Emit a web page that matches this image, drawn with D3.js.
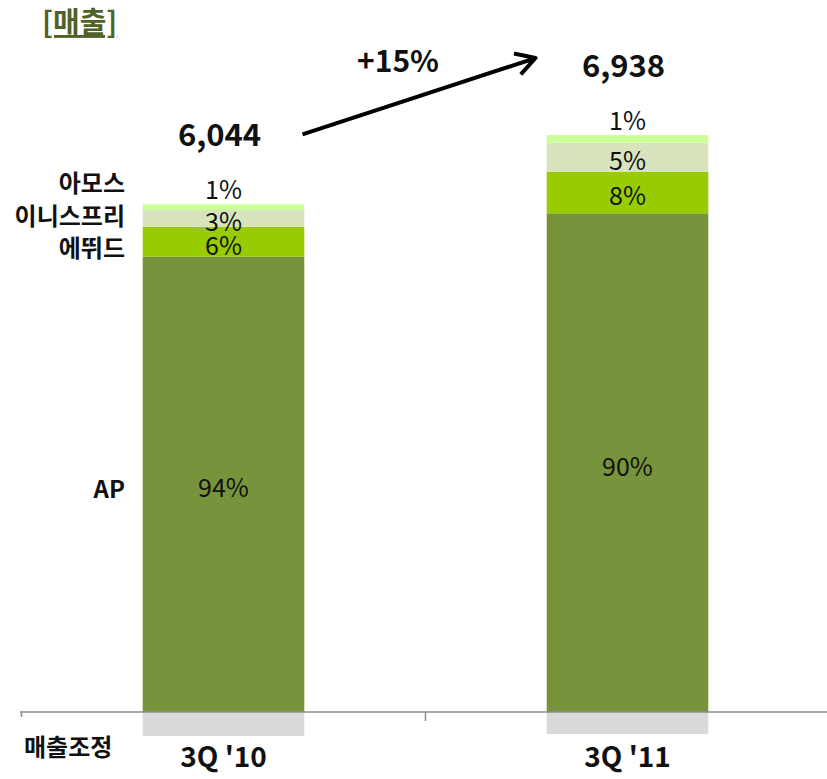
<!DOCTYPE html>
<html>
<head>
<meta charset="utf-8">
<script src="https://cdn.jsdelivr.net/npm/d3@7"></script>
<style>
  body { margin: 0; background: #fff; }
  text { font-family: "Noto Sans CJK KR", "Noto Sans", sans-serif; }
</style>
</head>
<body>
<svg id="chart"></svg>
<script>
// 데이터 (단위: 억원, 그림에서 읽은 추정치)
const categories = ["3Q '10", "3Q '11"];
const totals = [6044, 6938];
const growthLabel = "+15%";
const seriesKeys = ["adj", "ap", "etude", "innisfree", "amos"];
const seriesNames = ["매출조정", "AP", "에뛰드", "이니스프리", "아모스"];
const apValues = [5691, 6234];
const etudeValues = [375, 520];
const innisfreeValues = [209, 362];
const amosValues = [71, 96];
const adjValues = [-300, -275];
const shareLabels = {
    ap: ["94%", "90%"],
    etude: ["6%", "8%"],
    innisfree: ["3%", "5%"],
    amos: ["1%", "1%"]
};
const colors = {
    adj: "#d9d9d9",
    ap: "#77933c",
    etude: "#99cc00",
    innisfree: "#d7e4bd",
    amos: "#ccff99"
};

const width = 827, height = 779;

const svg = d3.select("#chart")
    .attr("width", width)
    .attr("height", height);

const rows = categories.map((c, i) => ({
    cat: c,
    adj: adjValues[i],
    ap: apValues[i],
    etude: etudeValues[i],
    innisfree: innisfreeValues[i],
    amos: amosValues[i]
}));

const stack = d3.stack()
    .keys(seriesKeys)
    .offset(d3.stackOffsetDiverging);
const series = stack(rows);

const xscale = d3.scaleBand()
    .domain(categories)
    .range([21.5, 829.5])
    .paddingInner(0.6)
    .paddingOuter(0.3);

const yscale = d3.scaleLinear()
    .domain([-500, 8900])
    .range([752, 0]);

const y0 = yscale(0);

// 막대
svg.append("g").selectAll("g")
    .data(series)
    .join("g")
    .attr("fill", d => colors[d.key])
    .selectAll("rect")
    .data(d => d)
    .join("rect")
    .attr("x", d => xscale(d.data.cat))
    .attr("y", d => yscale(d[1]))
    .attr("width", xscale.bandwidth())
    .attr("height", d => yscale(d[0]) - yscale(d[1]));

// x축 (선 + 카테고리 경계 눈금)
const axis = svg.append("g").attr("stroke", "#8c8c8c").attr("stroke-width", 1.5);
axis.append("line")
    .attr("x1", 20).attr("x2", width)
    .attr("y1", y0).attr("y2", y0);
const step = xscale.step();
const bounds = [xscale(categories[0]) - step * 0.3, xscale(categories[0]) - step * 0.3 + step];
axis.selectAll("line.tick")
    .data(bounds)
    .join("line")
    .attr("class", "tick")
    .attr("x1", d => d).attr("x2", d => d)
    .attr("y1", y0).attr("y2", (d, i) => y0 + (i === 0 ? 5 : 9));

// 구성비 라벨
const labelKeys = ["ap", "etude", "innisfree", "amos"];
series.filter(s => labelKeys.includes(s.key)).forEach(s => {
    svg.append("g").selectAll("text")
        .data(s)
        .join("text")
        .attr("x", d => xscale(d.data.cat) + xscale.bandwidth() / 2)
        .attr("y", d => s.key === "amos"
            ? yscale(d[1]) - 5
            : (yscale(d[0]) + yscale(d[1])) / 2 + 2)
        .attr("dominant-baseline", s.key === "amos" ? "auto" : "central")
        .attr("text-anchor", "middle")
        .style("font-size", "25px")
        .style("fill", "#111")
        .text((d, i) => shareLabels[s.key][i]);
});

// 왼쪽 범례 라벨 (첫 막대 기준, 겹침 방지)
const first = {};
series.forEach(s => { first[s.key] = s[0]; });
const legendY = {};
legendY.ap = (yscale(first.ap[0]) + yscale(first.ap[1])) / 2 + 3;
legendY.etude = (yscale(first.etude[0]) + yscale(first.etude[1])) / 2 + 5;
legendY.innisfree = Math.min((yscale(first.innisfree[0]) + yscale(first.innisfree[1])) / 2, legendY.etude - 32);
legendY.amos = Math.min((yscale(first.amos[0]) + yscale(first.amos[1])) / 2, legendY.innisfree - 33);

const legendKeys = ["amos", "innisfree", "etude", "ap"];
svg.append("g").selectAll("text")
    .data(legendKeys)
    .join("text")
    .attr("x", 125)
    .attr("y", d => legendY[d])
    .attr("text-anchor", "end")
    .attr("dominant-baseline", "central")
    .style("font-size", "24px")
    .style("font-weight", "bold")
    .style("fill", "#111")
    .text(d => seriesNames[seriesKeys.indexOf(d)]);

svg.append("text")
    .attr("x", 24)
    .attr("y", 745)
    .attr("dominant-baseline", "central")
    .style("font-size", "24px")
    .style("font-weight", "bold")
    .style("fill", "#111")
    .text(seriesNames[0]);

// 카테고리 라벨
svg.append("g").selectAll("text")
    .data(categories)
    .join("text")
    .attr("x", d => xscale(d) + xscale.bandwidth() / 2)
    .attr("y", 755)
    .attr("text-anchor", "middle")
    .attr("dominant-baseline", "central")
    .style("font-size", "28px")
    .style("font-weight", "bold")
    .style("fill", "#111")
    .text(d => d);

// 합계 라벨
const totalPos = categories.map((c, i) => {
    const top = d3.max(series, s => s[i][1]);
    return { x: xscale(c) + xscale.bandwidth() / 2 - 4, y: yscale(top) - 72 };
});
svg.append("g").selectAll("text")
    .data(totals)
    .join("text")
    .attr("x", (d, i) => totalPos[i].x)
    .attr("y", (d, i) => totalPos[i].y)
    .attr("text-anchor", "middle")
    .attr("dominant-baseline", "central")
    .style("font-size", "31px")
    .style("font-weight", "bold")
    .style("fill", "#111")
    .text(d => d3.format(",")(d));

// 증가 화살표
const ax1 = totalPos[0].x + 83, ay1 = totalPos[0].y + 2;
const ax2 = totalPos[1].x - 88, ay2 = totalPos[1].y - 5;
const ang = Math.atan2(ay2 - ay1, ax2 - ax1);
const head = 22, spread = Math.PI / 6;
const h1 = [ax2 - head * Math.cos(ang - spread), ay2 - head * Math.sin(ang - spread)];
const h2 = [ax2 - head * Math.cos(ang + spread), ay2 - head * Math.sin(ang + spread)];
svg.append("path")
    .attr("d", `M${ax1},${ay1}L${ax2},${ay2}M${h1[0]},${h1[1]}L${ax2},${ay2}L${h2[0]},${h2[1]}`)
    .attr("fill", "none")
    .attr("stroke", "#000")
    .attr("stroke-width", 4)
    .attr("stroke-linejoin", "round");

svg.append("text")
    .attr("x", 398)
    .attr("y", 59)
    .attr("text-anchor", "middle")
    .attr("dominant-baseline", "central")
    .style("font-size", "30px")
    .style("font-weight", "bold")
    .style("fill", "#111")
    .text(growthLabel);

// 제목
svg.append("text")
    .attr("x", 42)
    .attr("y", 20)
    .attr("dominant-baseline", "central")
    .style("font-size", "29px")
    .style("font-weight", "bold")
    .style("fill", "#4f6228")
    .style("text-decoration", "underline")
    .text("[매출]");
</script>
</body>
</html>
